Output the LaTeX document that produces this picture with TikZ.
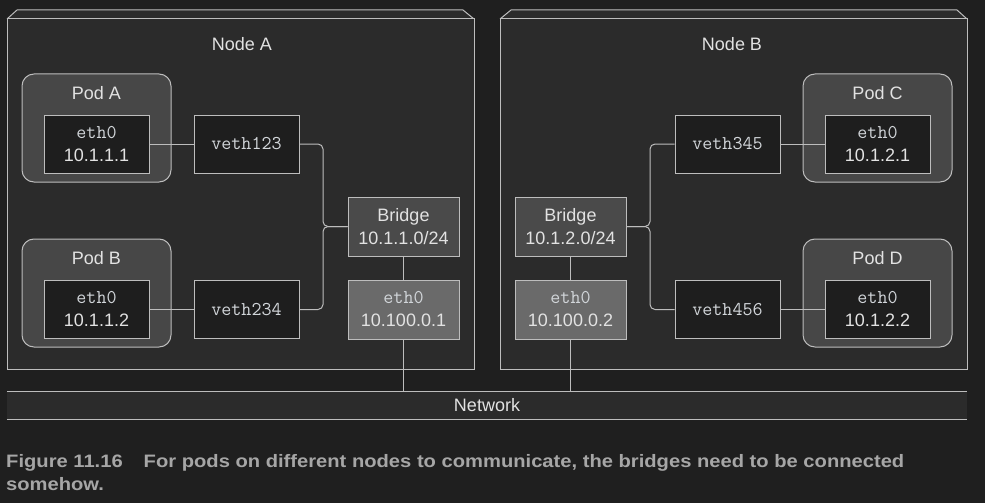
\documentclass[tikz,border=0pt]{standalone}
\usepackage{fontspec}
\setmainfont{Liberation Sans}
\newfontfamily\capfont[FakeStretch=1.12]{Liberation Sans}
\definecolor{bg}{HTML}{1F1F1F}
\definecolor{nodefill}{HTML}{2B2B2B}
\definecolor{podfill}{HTML}{474747}
\definecolor{darkfill}{HTML}{1E1E1E}
\definecolor{brfill}{HTML}{4A4A4A}
\definecolor{hostfill}{HTML}{6A6A6A}
\definecolor{lc}{HTML}{BDBDBD}
\definecolor{txt}{HTML}{E2E2E2}
\definecolor{mono}{HTML}{D2D6DA}
\definecolor{capc}{HTML}{A6A6A6}
\newcommand{\sz}{\fontsize{18}{23}\selectfont}
\newcommand{\mt}[1]{{\ttfamily\fontsize{19.5}{23}\selectfont\color{mono}#1}}
\tikzset{
  nodebox/.style={draw=lc, fill=nodefill, line width=1pt},
  pod/.style={draw=lc, fill=podfill, line width=1pt, rounded corners=12pt, minimum width=149pt, minimum height=108pt, inner sep=0pt},
  lbl/.style={text=txt, font=\sz, inner sep=0pt},
  ifbox/.style={draw=lc, fill=darkfill, line width=1pt, minimum width=105pt, minimum height=58pt, align=center, text=txt, font=\sz, inner sep=0pt},
  brbox/.style={draw=lc, fill=brfill, line width=1pt, minimum width=111pt, minimum height=59pt, align=center, text=txt, font=\sz, inner sep=0pt},
  hostbox/.style={draw=lc, fill=hostfill, line width=1pt, minimum width=111pt, minimum height=59pt, align=center, text=txt, font=\sz, inner sep=0pt},
  wire/.style={draw=lc, line width=1pt, rounded corners=5pt},
  captext/.style={anchor=base west, inner sep=0pt, text=capc, font=\capfont\bfseries\fontsize{18}{23}\selectfont},
}
\begin{document}
\begin{tikzpicture}[x=1pt,y=-1pt]
\useasboundingbox[fill=bg] (0,0) rectangle (985,503);
% Node boxes
\fill[nodefill] (7,19) -- (17,10) -- (463,10) -- (474,19) -- cycle;
\draw[lc, line width=1pt] (7,19) -- (17,10) -- (463,10) -- (474,19);
\node[nodebox, minimum width=467pt, minimum height=350pt, inner sep=0pt] (nodeA) at (240.5,194) {};
\fill[nodefill] (500,19) -- (511,10) -- (957,10) -- (967,19) -- cycle;
\draw[lc, line width=1pt] (500,19) -- (511,10) -- (957,10) -- (967,19);
\node[nodebox, minimum width=467pt, minimum height=350pt, inner sep=0pt] (nodeB) at (733.5,194) {};
\node[lbl] (nodeAl) at (242,44) {Node A};
\node[lbl] (nodeBl) at (732,44) {Node B};
% Network
\node[fill=nodefill, minimum width=960pt, minimum height=27pt, inner sep=0pt, text=txt, font=\sz] (net) at (487,405.5) {Network};
\draw[lc, line width=1pt] (net.north west) -- (net.north east);
\draw[lc, line width=1pt] (net.south west) -- (net.south east);
% Pods
\node[pod] (podA) at (96.5,128) {};
\node[lbl] (podAl) at (96.5,93) {Pod A};
\node[pod] (podB) at (96.5,293) {};
\node[lbl] (podBl) at (96.5,258) {Pod B};
\node[pod] (podC) at (877.5,128) {};
\node[lbl] (podCl) at (877.5,93) {Pod C};
\node[pod] (podD) at (877.5,293) {};
\node[lbl] (podDl) at (877.5,258) {Pod D};
% Interfaces
\node[ifbox] (ethA) at (96.5,144) {\mt{eth0}\\10.1.1.1};
\node[ifbox] (ethB) at (96.5,309.5) {\mt{eth0}\\10.1.1.2};
\node[ifbox] (ethC) at (877.5,144) {\mt{eth0}\\10.1.2.1};
\node[ifbox] (ethD) at (877.5,309.5) {\mt{eth0}\\10.1.2.2};
\node[ifbox] (v123) at (246.5,144) {\mt{veth123}};
\node[ifbox] (v234) at (246.5,309.5) {\mt{veth234}};
\node[ifbox] (v345) at (727.5,144) {\mt{veth345}};
\node[ifbox] (v456) at (727.5,309.5) {\mt{veth456}};
\node[brbox] (brA) at (403.5,226.5) {Bridge\\10.1.1.0/24};
\node[brbox] (brB) at (570.5,226.5) {Bridge\\10.1.2.0/24};
\node[hostbox] (hA) at (403.5,309.5) {\mt{eth0}\\10.100.0.1};
\node[hostbox] (hB) at (570.5,309.5) {\mt{eth0}\\10.100.0.2};
% Wires
\draw[wire] (ethA.east) -- (v123.west);
\draw[wire] (ethB.east) -- (v234.west);
\draw[wire] (ethC.west) -- (v345.east);
\draw[wire] (ethD.west) -- (v456.east);
\draw[wire] (v123.east) -- (323,144) -- (323,226.5) -- (brA.west);
\draw[wire] (v234.east) -- (323,309.5) -- (323,226.5) -- (brA.west);
\draw[wire] (v345.west) -- (650,144) -- (650,226.5) -- (brB.east);
\draw[wire] (v456.west) -- (650,309.5) -- (650,226.5) -- (brB.east);
\draw[wire] (brA.south) -- (hA.north);
\draw[wire] (brB.south) -- (hB.north);
\draw[wire] (hA.south) -- (hA.south |- net.north);
\draw[wire] (hB.south) -- (hB.south |- net.north);
% Caption
\node[captext] (cap1) at (6,467) {Figure 11.16\hspace{21pt}For pods on different nodes to communicate, the bridges need to be connected};
\node[captext] (cap2) at (6,490) {somehow.};
\end{tikzpicture}
\end{document}
